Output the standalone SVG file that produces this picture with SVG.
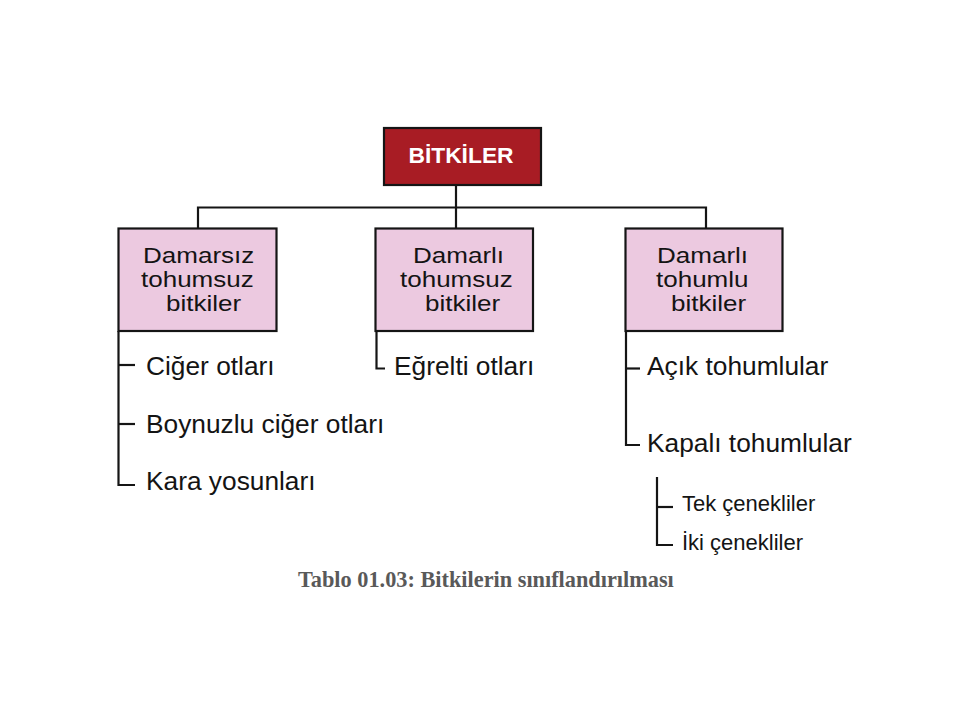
<svg xmlns="http://www.w3.org/2000/svg" width="960" height="720" viewBox="0 0 960 720">
<style>
  .box { fill: #ecc9e0; stroke: #151515; stroke-width: 2.2; }
  .root { fill: #a81c24; stroke: #151515; stroke-width: 2.2; }
  .t { font-family: "Liberation Sans", Arial, Helvetica, sans-serif; font-size: 26.3px; fill: #141414; }
  .b { font-family: "Liberation Sans", Arial, Helvetica, sans-serif; font-size: 21.5px; fill: #141414; }
  .s { font-family: "Liberation Sans", Arial, Helvetica, sans-serif; font-size: 22px; fill: #141414; }
  .rt { font-family: "Liberation Sans", Arial, Helvetica, sans-serif; font-size: 22.8px; font-weight: bold; fill: #ffffff; }
  .cap { font-family: "Liberation Serif", "Times New Roman", serif; font-size: 22.3px; font-weight: bold; fill: #595959; }
  .ln { fill: none; stroke: #151515; stroke-width: 2.2; }
</style>
<rect width="960" height="720" fill="#ffffff"/>

<g id="connectors">
  <path class="ln" d="M456 185 V207.5"/>
  <path class="ln" d="M198 228 V207.5 H706 V228"/>
  <path class="ln" d="M456 207.5 V228"/>
  <path class="ln" d="M118.5 331 V485 H135"/>
  <path class="ln" d="M118.5 365 H135"/>
  <path class="ln" d="M118.5 424 H135"/>
  <path class="ln" d="M376.5 331 V368.5 H385"/>
  <path class="ln" d="M626 331 V445 H640"/>
  <path class="ln" d="M626 368.5 H640"/>
  <path class="ln" d="M657 477 V545 H673"/>
  <path class="ln" d="M657 507 H673"/>
</g>

<g id="bitkiler">
  <rect class="root" x="384" y="128" width="157" height="57"/>
  <text class="rt" x="461" y="162.5" text-anchor="middle">BİTKİLER</text>
</g>

<g id="damarsiz-tohumsuz">
  <rect class="box" x="118.5" y="228.5" width="158" height="102.5"/>
  <text class="b" transform="translate(143 262.5) scale(1.21 1)">Damarsız</text>
  <text class="b" transform="translate(141 286.8) scale(1.21 1)">tohumsuz</text>
  <text class="b" transform="translate(166 311.1) scale(1.21 1)">bitkiler</text>
</g>

<g id="damarli-tohumsuz">
  <rect class="box" x="375.5" y="228.5" width="157.5" height="102.5"/>
  <text class="b" transform="translate(413 262.5) scale(1.21 1)">Damarlı</text>
  <text class="b" transform="translate(400 286.8) scale(1.21 1)">tohumsuz</text>
  <text class="b" transform="translate(425 311.1) scale(1.21 1)">bitkiler</text>
</g>

<g id="damarli-tohumlu">
  <rect class="box" x="625.5" y="228.5" width="157" height="102.5"/>
  <text class="b" transform="translate(657 262.5) scale(1.21 1)">Damarlı</text>
  <text class="b" transform="translate(656 286.8) scale(1.21 1)">tohumlu</text>
  <text class="b" transform="translate(671 311.1) scale(1.21 1)">bitkiler</text>
</g>

<g id="ciger-otlari"><text class="t" x="146" y="375">Ciğer otları</text></g>
<g id="boynuzlu-ciger-otlari"><text class="t" x="146" y="433">Boynuzlu ciğer otları</text></g>
<g id="kara-yosunlari"><text class="t" x="146" y="490">Kara yosunları</text></g>
<g id="egrelti-otlari"><text class="t" x="394" y="375">Eğrelti otları</text></g>
<g id="acik-tohumlular"><text class="t" x="647" y="375">Açık tohumlular</text></g>
<g id="kapali-tohumlular"><text class="t" x="647" y="452">Kapalı tohumlular</text></g>
<g id="tek-cenekliler"><text class="s" x="682" y="511">Tek çenekliler</text></g>
<g id="iki-cenekliler"><text class="s" x="682" y="550">İki çenekliler</text></g>

<text class="cap" x="298" y="587">Tablo 01.03: Bitkilerin sınıflandırılması</text>
</svg>
